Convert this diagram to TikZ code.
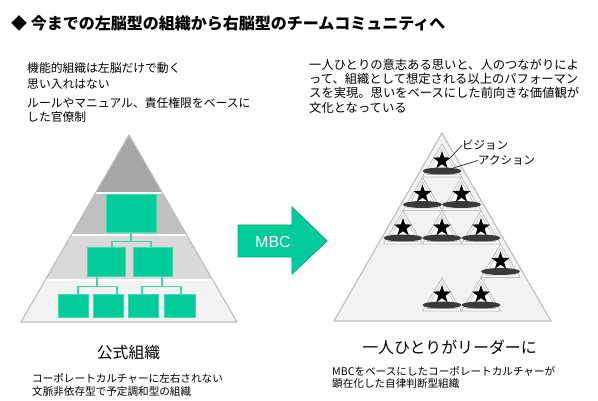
\documentclass[tikz,border=0pt]{standalone}
\usepackage{fontspec}
\setmainfont{Noto Sans CJK JP}
\newfontfamily\arialfont{Liberation Sans}
\usetikzlibrary{shapes.geometric,calc}
\definecolor{grn}{HTML}{00CC99}
\definecolor{grnd}{HTML}{00A37A}
\definecolor{gline}{HTML}{3DD6AB}
\definecolor{pA}{HTML}{A6A6A6}
\definecolor{pB}{HTML}{C0C0C0}
\definecolor{pC}{HTML}{D9D9D9}
\definecolor{pD}{HTML}{F2F2F2}
\definecolor{pedge}{HTML}{BDBDBD}
\definecolor{ell}{HTML}{3A3A3A}
\newcommand\smalltri[3]{%
  \fill[white, draw=pedge, line width=0.8] (#2,#3-27) -- (#2+19.5,#3+6) -- (#2-19.5,#3+6) -- cycle;
  \draw[pedge, line width=0.6] (#2,#3-23) -- (#2+15.2,#3+3.5) -- (#2-15.2,#3+3.5) -- cycle;
  \node[ellipse, fill=ell, inner sep=0, minimum width=39, minimum height=7] (e#1) at (#2,#3) {};
  \node[star, star points=5, star point ratio=2.5, fill=black, inner sep=0, minimum size=19] (s#1) at (#2,#3-10.5) {};
}
\begin{document}
\begin{tikzpicture}[x=1pt,y=-1pt,
  gbox/.style={fill=grn, draw=grn!75!white, line width=0.5, inner sep=0},
  glink/.style={draw=gline, line width=1.1},
  txt/.style={anchor=west, inner sep=0},
  leader/.style={draw=ell, line width=0.8}]
\useasboundingbox (0,0) rectangle (598,401);
\fill[white] (0,0) rectangle (598,401);

% title
\node[txt, font=\fontsize{16}{18}\selectfont\bfseries] (title) at (11,23) {◆ 今までの左脳型の組織から右脳型のチームコミュニティへ};

% left text
\node[txt, font=\fontsize{11.8}{14}\selectfont] (l1) at (27,68) {機能的組織は左脳だけで動く};
\node[txt, font=\fontsize{11.8}{14}\selectfont] (l2) at (27,84) {思い入れはない};
\node[txt, font=\fontsize{11.8}{14}\selectfont] (l3) at (27,103) {ルールやマニュアル、責任権限をベースに};
\node[txt, font=\fontsize{11.8}{14}\selectfont] (l4) at (27,117) {した官僚制};

% right text
\node[txt, font=\fontsize{12.3}{14}\selectfont] (r1) at (309,65) {一人ひとりの意志ある思いと、人のつながりによ};
\node[txt, font=\fontsize{12.3}{14}\selectfont] (r2) at (309,79) {って、組織として想定される以上のパフォーマン};
\node[txt, font=\fontsize{12.3}{14}\selectfont] (r3) at (309,93) {スを実現。思いをベースにした前向きな価値観が};
\node[txt, font=\fontsize{12.3}{14}\selectfont] (r4) at (309,108) {文化となっている};

% left pyramid
\begin{scope}
  \clip (129,135) -- (237,322) -- (21,322) -- cycle;
  \fill[pA] (0,120) rectangle (300,193);
  \fill[pB] (0,193) rectangle (300,235);
  \fill[pC] (0,235) rectangle (300,280);
  \fill[pD] (0,280) rectangle (300,330);
  \draw[white, line width=1.5] (0,193) -- (300,193) (0,235) -- (300,235) (0,280) -- (300,280);
\end{scope}
\draw[pedge, line width=1.1, line join=miter] (129,135) -- (237,322) -- (21,322) -- cycle;

\node[gbox, minimum width=50, minimum height=38] (t) at (131,213) {};
\node[gbox, minimum width=38, minimum height=29] (ml) at (106,261.5) {};
\node[gbox, minimum width=39, minimum height=29] (mr) at (152.5,261.5) {};
\node[gbox, minimum width=30, minimum height=23] (b1) at (73,305.5) {};
\node[gbox, minimum width=30, minimum height=23] (b2) at (108,305.5) {};
\node[gbox, minimum width=30, minimum height=23] (b3) at (143,305.5) {};
\node[gbox, minimum width=31, minimum height=23] (b4) at (179.5,305.5) {};

\coordinate (j1) at ($(t.south)+(0,9)$);
\draw[glink] (t.south) -- (j1) -| ($(ml.north)+(6,0)$);
\draw[glink] (j1) -| ($(mr.north)+(-1.5,0)$);
\coordinate (j2) at ($(ml.south)+(-9,10)$);
\draw[glink] ($(ml.south)+(-9,0)$) -- (j2) -| ($(b1.north)+(5,0)$);
\draw[glink] (j2) -| ($(b2.north)+(9,0)$);
\coordinate (j3) at ($(mr.south)+(9.5,10)$);
\draw[glink] ($(mr.south)+(9.5,0)$) -- (j3) -| ($(b3.north)+(-1,0)$);
\draw[glink] (j3) -| ($(b4.north)+(1.5,0)$);

% arrow
\fill[grn, draw=grnd, line width=0.8] (238,225) -- (292,225) -- (292,207) -- (327,241) -- (292,274) -- (292,257) -- (238,257) -- cycle;
\node[font=\arialfont\fontsize{16}{18}\selectfont, text=white, inner sep=0] (mbc) at (273,241.5) {MBC};

% right pyramid
\draw[fill=pD, draw=pedge, line width=1.1] (442,133) -- (551,321) -- (334,321) -- cycle;
\smalltri{1}{442}{171}
\smalltri{2}{422.5}{204.5}
\smalltri{3}{461.5}{204.5}
\smalltri{4}{403}{238}
\smalltri{5}{442}{238}
\smalltri{6}{481}{238}
\smalltri{7}{500.5}{271.5}
\smalltri{8}{442}{305}
\smalltri{9}{481}{305}

\node[txt, font=\fontsize{11.5}{13}\selectfont] (vis) at (462,145.5) {ビジョン};
\node[txt, font=\fontsize{11.5}{13}\selectfont] (act) at (478,160.5) {アクション};
\draw[leader] (s1.20) -- (vis.west);
\draw[leader] (e1.15) -- (act.west);

% bottom texts
\node[inner sep=0, font=\fontsize{15.8}{18}\selectfont] (lt) at (128.5,353) {公式組織};
\node[txt, font=\fontsize{10.6}{13}\selectfont] (lb1) at (32,378) {コーポレートカルチャーに左右されない};
\node[txt, font=\fontsize{10.6}{13}\selectfont] (lb2) at (32,391.5) {文脈非依存型で予定調和型の組織};

\node[inner sep=0, font=\fontsize{15.9}{18}\selectfont] (rt) at (449.5,347) {一人ひとりがリーダーに};
\node[txt, font=\fontsize{10.6}{13}\selectfont] (rb1) at (332,371.5) {MBCをベースにしたコーポレートカルチャーが};
\node[txt, font=\fontsize{10.6}{13}\selectfont] (rb2) at (332,384) {顕在化した自律判断型組織};
\end{tikzpicture}
\end{document}
